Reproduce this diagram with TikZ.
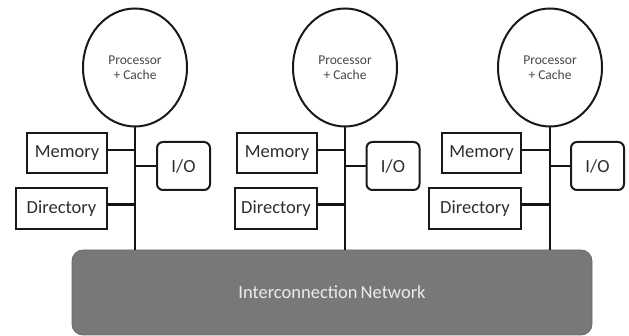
\documentclass[tikz,border=0pt]{standalone}
\usepackage{fontspec}
\setmainfont{Carlito}
\usetikzlibrary{shapes.geometric}
\tikzset{
  proc/.style={ellipse, draw=black!90, line width=2pt, fill=white, minimum width=104pt, minimum height=118pt, inner sep=0pt, align=center, font=\fontsize{13.5}{15.5}\selectfont, text=black!72},
  plainbox/.style={draw=black!90, line width=2pt, fill=white, minimum height=40pt, inner sep=0pt, font=\fontsize{18.5}{20}\selectfont, text=black!82},
  iobox/.style={plainbox, rounded corners=6pt, minimum width=53pt, minimum height=48pt},
  bus/.style={line width=2.2pt, draw=black!92},
  net/.style={draw=black!58, fill=black!53, line width=0.8pt, rounded corners=11pt, minimum width=520pt, minimum height=85pt, inner sep=0pt, text=black!8, font=\fontsize{18.5}{20}\selectfont}
}
\begin{document}
\begin{tikzpicture}[x=1pt,y=-1pt]
\useasboundingbox (0,0) rectangle (629,336);
\node[net] (net) at (332,292.5) {Interconnection\,Network};
% unit 1
\node[proc] (p1) at (135,67.5) {Processor\\+ Cache};
\node[plainbox, minimum width=80pt] (m1) at (67,153) {Memory};
\node[plainbox, minimum width=91pt, minimum height=41pt] (d1) at (61.5,208.5) {Directory};
\node[iobox] (io1) at (183.5,166) {I/O};
\draw[bus] (p1.south) -- (p1.south |- net.north);
\draw[bus] ([yshift=3pt]m1.east) -- ([yshift=3pt]m1.east -| p1.south);
\draw[bus] ([yshift=4pt]d1.east) -- ([yshift=4pt]d1.east -| p1.south);
\draw[bus] (io1.west) -- (io1.west -| p1.south);
% unit 2
\node[proc] (p2) at (345,67.5) {Processor\\+ Cache};
\node[plainbox, minimum width=80pt] (m2) at (277,153) {Memory};
\node[plainbox, minimum width=82pt, minimum height=41pt] (d2) at (276,208.5) {Directory};
\node[iobox] (io2) at (393,166) {I/O};
\draw[bus] (p2.south) -- (p2.south |- net.north);
\draw[bus] ([yshift=3pt]m2.east) -- ([yshift=3pt]m2.east -| p2.south);
\draw[bus] ([yshift=4pt]d2.east) -- ([yshift=4pt]d2.east -| p2.south);
\draw[bus] (io2.west) -- (io2.west -| p2.south);
% unit 3
\node[proc] (p3) at (550,67.5) {Processor\\+ Cache};
\node[plainbox, minimum width=79pt] (m3) at (481.5,153) {Memory};
\node[plainbox, minimum width=92pt, minimum height=41pt] (d3) at (475,208.5) {Directory};
\node[iobox] (io3) at (597.5,166) {I/O};
\draw[bus] (p3.south) -- (p3.south |- net.north);
\draw[bus] ([yshift=3pt]m3.east) -- ([yshift=3pt]m3.east -| p3.south);
\draw[bus] ([yshift=4pt]d3.east) -- ([yshift=4pt]d3.east -| p3.south);
\draw[bus] (io3.west) -- (io3.west -| p3.south);
\end{tikzpicture}
\end{document}
